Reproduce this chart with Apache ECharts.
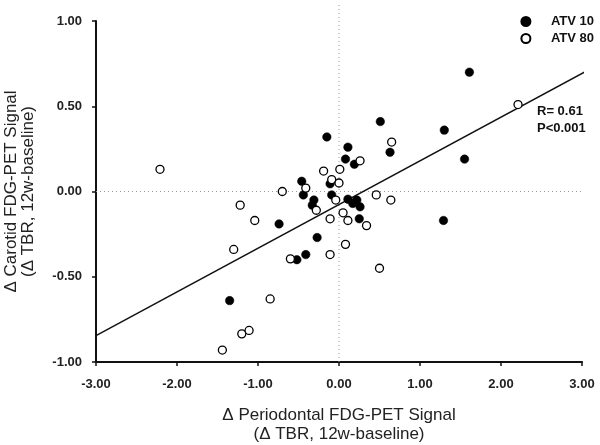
<!DOCTYPE html>
<html>
<head>
<meta charset="utf-8">
<script src="https://cdn.jsdelivr.net/npm/echarts@6/dist/echarts.min.js"></script>
<style>html,body{margin:0;padding:0;background:#fff;}#c{width:600px;height:445px;}</style>
</head>
<body>
<div id="c"></div>
<script>
var atv10 = [
  [0.51,0.41],[1.30,0.36],[-0.15,0.32],[0.11,0.26],[0.63,0.23],[0.08,0.19],[0.19,0.16],
  [-0.46,0.06],[-0.11,0.045],[-0.44,-0.02],[-0.09,-0.02],[-0.31,-0.05],[-0.33,-0.08],
  [0.11,-0.045],[0.17,-0.07],[0.22,-0.05],[0.26,-0.09],[-0.74,-0.19],[0.25,-0.16],
  [1.29,-0.17],[-0.27,-0.27],[-0.41,-0.37],[-0.52,-0.40],[-1.35,-0.64],[1.55,0.19],[1.61,0.70]
];
var atv80 = [
  [0.65,0.29],[0.26,0.18],[-0.19,0.12],[0.01,0.13],[-0.09,0.07],[0.00,0.05],[-0.41,0.02],
  [-0.70,0.00],[-0.04,-0.05],[0.46,-0.02],[0.64,-0.05],[-1.22,-0.08],[-0.28,-0.11],
  [0.05,-0.125],[-1.04,-0.17],[-0.11,-0.16],[0.11,-0.17],[0.34,-0.20],[-1.30,-0.34],
  [-0.60,-0.395],[0.08,-0.31],[-0.11,-0.37],[0.50,-0.45],[-0.85,-0.63],[-2.21,0.13],
  [-1.20,-0.835],[-1.11,-0.815],[-1.44,-0.93],[2.21,0.51]
];
var fitLine = [[-3,-0.845],[3.03,0.70]];
var zeroV = [[0,-1],[0,1.11]];
var zeroH = [[-3,0],[3.03,0]];
var legendNames = ['ATV 10','ATV 80'];
var statsText = ['R= 0.61','P<0.001'];

var font = 'Liberation Sans, Arial, sans-serif';
var chart = echarts.init(document.getElementById('c'), null, {renderer:'canvas'});
chart.setOption({
  animation:false,
  backgroundColor:'#fff',
  grid:{left:96,right:18,top:21,bottom:83,containLabel:false,outerBoundsMode:'none'},
  legend:{
    data:legendNames, orient:'vertical', right:1, top:10, itemWidth:40, itemHeight:9, itemGap:4,
    textStyle:{fontFamily:font,fontWeight:'bold',fontSize:13,color:'#111'}
  },
  xAxis:{
    type:'value', min:-3, max:3, interval:1,
    axisLine:{onZero:false,lineStyle:{color:'#111',width:2}},
    axisTick:{length:4,lineStyle:{color:'#111',width:1.5}},
    splitLine:{show:false},
    axisLabel:{formatter:function(v){return v.toFixed(2);},fontFamily:font,fontWeight:'bold',fontSize:13,color:'#222',margin:16},
    name:'\u0394 Periodontal FDG-PET Signal\n(\u0394 TBR, 12w-baseline)',
    nameLocation:'middle', nameGap:44,
    nameTextStyle:{fontFamily:font,fontSize:17,color:'#222',lineHeight:19}
  },
  yAxis:{
    type:'value', min:-1, max:1, interval:0.5,
    axisLine:{show:true,onZero:false,lineStyle:{color:'#111',width:2}},
    axisTick:{show:true,length:4,lineStyle:{color:'#111',width:1.5}},
    splitLine:{show:false},
    axisLabel:{formatter:function(v){return v.toFixed(2);},fontFamily:font,fontWeight:'bold',fontSize:13,color:'#222',margin:14},
    name:'\u0394 Carotid FDG-PET Signal\n(\u0394 TBR, 12w-baseline)',
    nameLocation:'middle', nameGap:59, nameRotate:90,
    nameTextStyle:{fontFamily:font,fontSize:17,color:'#222',lineHeight:17}
  },
  graphic:[{
    type:'text', left:537, top:103,
    style:{text:statsText.join('\n'),font:'bold 13px '+font,fill:'#111',lineHeight:17}
  }],
  series:[
    {type:'line',data:zeroV,showSymbol:false,symbol:'none',clip:false,silent:true,
     lineStyle:{color:'#999',width:1,type:[1,3]},z:1},
    {type:'line',data:zeroH,showSymbol:false,symbol:'none',clip:false,silent:true,
     lineStyle:{color:'#999',width:1,type:[1,3]},z:1},
    {type:'line',data:fitLine,showSymbol:false,symbol:'none',clip:false,silent:true,
     lineStyle:{color:'#111',width:1.5},z:2},
    {name:'ATV 10',type:'scatter',data:atv10,symbol:'circle',symbolSize:8.5,
     itemStyle:{color:'#000',borderColor:'#000',borderWidth:0.5,opacity:1},z:3},
    {name:'ATV 80',type:'scatter',data:atv80,symbol:'circle',symbolSize:8,
     itemStyle:{color:'#fff',borderColor:'#000',borderWidth:1.3,opacity:1},z:4}
  ]
});
</script>
</body>
</html>
